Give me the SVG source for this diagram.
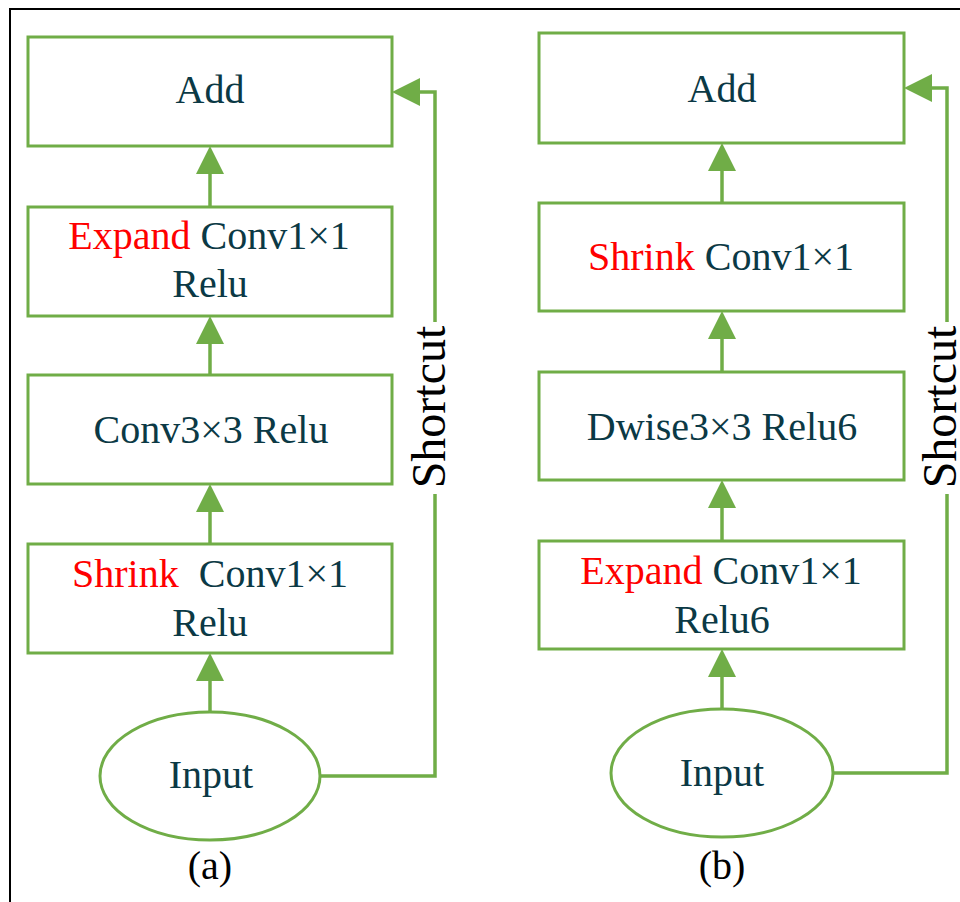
<svg xmlns="http://www.w3.org/2000/svg" width="960" height="902" viewBox="0 0 960 902">
  <style>
    .box { fill: #ffffff; stroke: #70ad47; stroke-width: 3; }
    .conn { fill: none; stroke: #70ad47; stroke-width: 3.5; }
    .t { font-family: "Liberation Serif", "Times New Roman", serif; font-size: 40px; fill: #0b3945; text-anchor: middle; white-space: pre; }
    .red { fill: #ff0000; }
    .lbl { font-family: "Liberation Serif", "Times New Roman", serif; font-size: 40px; fill: #000000; text-anchor: middle; }
    .sc { font-family: "Liberation Serif", "Times New Roman", serif; font-size: 48px; fill: #000000; text-anchor: middle; }
  </style>
  <defs>
    <marker id="arr" markerUnits="userSpaceOnUse" markerWidth="28" markerHeight="28" refX="18" refY="14" orient="auto">
      <path d="M0,0 L28,14 L0,28 Z" fill="#70ad47"/>
    </marker>
  </defs>
  <rect x="0" y="0" width="960" height="902" fill="#ffffff"/>
  <rect x="10" y="9" width="980" height="920" fill="none" stroke="#000000" stroke-width="2"/>

  <g id="connectors">
    <path class="conn" d="M210,712 V663" marker-end="url(#arr)"/>
    <path class="conn" d="M210,544 V494" marker-end="url(#arr)"/>
    <path class="conn" d="M210,375 V326" marker-end="url(#arr)"/>
    <path class="conn" d="M210,207 V156" marker-end="url(#arr)"/>
    <path class="conn" d="M320,776 H435 V92 H402" marker-end="url(#arr)"/>
    <path class="conn" d="M722,709 V659" marker-end="url(#arr)"/>
    <path class="conn" d="M722,541 V490" marker-end="url(#arr)"/>
    <path class="conn" d="M722,372 V321" marker-end="url(#arr)"/>
    <path class="conn" d="M722,203 V153" marker-end="url(#arr)"/>
    <path class="conn" d="M832,773 H947 V88 H914" marker-end="url(#arr)"/>
  </g>

  <!-- Panel (a) -->
  <g id="a-add">
    <rect class="box" x="28" y="37" width="364" height="109"/>
    <text class="t" x="210" y="103">Add</text>
  </g>
  <g id="a-expand">
    <rect class="box" x="28" y="207" width="364" height="109"/>
    <text class="t" x="209" y="249"><tspan class="red">Expand</tspan> Conv1×1</text>
    <text class="t" x="210" y="297">Relu</text>
  </g>
  <g id="a-conv3">
    <rect class="box" x="28" y="375" width="364" height="109"/>
    <text class="t" x="211" y="443">Conv3×3 Relu</text>
  </g>
  <g id="a-shrink">
    <rect class="box" x="28" y="544" width="364" height="109"/>
    <text class="t" x="210" y="587"><tspan class="red">Shrink</tspan>  Conv1×1</text>
    <text class="t" x="210" y="636">Relu</text>
  </g>
  <g id="a-input">
    <ellipse class="box" cx="210" cy="776" rx="110" ry="64"/>
    <text class="t" x="211" y="788">Input</text>
  </g>
  <g id="a-shortcut-label">
    <rect x="414" y="322" width="38" height="172" fill="#ffffff"/>
    <text class="sc" transform="translate(445,407) rotate(-90)">Shortcut</text>
  </g>
  <text class="lbl" x="210" y="879">(a)</text>

  <!-- Panel (b) -->
  <g id="b-add">
    <rect class="box" x="539" y="33" width="365" height="110"/>
    <text class="t" x="722" y="102">Add</text>
  </g>
  <g id="b-shrink">
    <rect class="box" x="539" y="203" width="365" height="108"/>
    <text class="t" x="721" y="270"><tspan class="red">Shrink</tspan> Conv1×1</text>
  </g>
  <g id="b-dwise">
    <rect class="box" x="539" y="372" width="365" height="108"/>
    <text class="t" x="722" y="440">Dwise3×3 Relu6</text>
  </g>
  <g id="b-expand">
    <rect class="box" x="539" y="541" width="365" height="108"/>
    <text class="t" x="721" y="584"><tspan class="red">Expand</tspan> Conv1×1</text>
    <text class="t" x="722" y="633">Relu6</text>
  </g>
  <g id="b-input">
    <ellipse class="box" cx="722" cy="773" rx="111" ry="64"/>
    <text class="t" x="722" y="786">Input</text>
  </g>
  <g id="b-shortcut-label">
    <rect x="924" y="322" width="36" height="172" fill="#ffffff"/>
    <text class="sc" transform="translate(956,407) rotate(-90)">Shortcut</text>
  </g>
  <text class="lbl" x="722" y="879">(b)</text>
</svg>
